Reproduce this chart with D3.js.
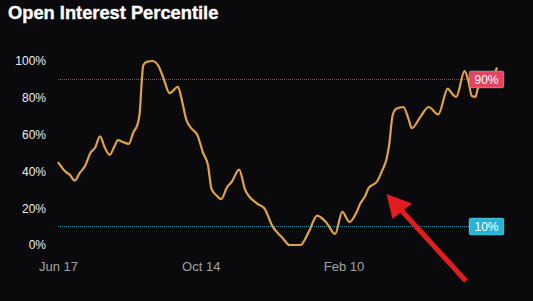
<!DOCTYPE html>
<html><head><meta charset="utf-8">
<script src="https://cdn.jsdelivr.net/npm/d3@7"></script>
<style>
html,body{margin:0;padding:0;background:#0a0a0d;}
svg{display:block;}
</style></head>
<body>
<svg id="chart" width="533" height="301"></svg>
<script>
const title = "Open Interest Percentile";
const dates = ["2023-06-17","2023-06-23","2023-06-27","2023-07-01","2023-07-05","2023-07-10","2023-07-14","2023-07-18","2023-07-22","2023-07-26","2023-07-30","2023-08-03","2023-08-06","2023-08-10","2023-08-15","2023-08-19","2023-08-22","2023-08-24","2023-08-26","2023-08-27","2023-08-30","2023-09-04","2023-09-09","2023-09-13","2023-09-18","2023-09-25","2023-09-28","2023-10-02","2023-10-06","2023-10-11","2023-10-16","2023-10-20","2023-10-23","2023-10-27","2023-10-31","2023-11-05","2023-11-09","2023-11-15","2023-11-20","2023-11-30","2023-12-06","2023-12-13","2023-12-21","2023-12-27","2024-01-05","2024-01-12","2024-01-19","2024-01-27","2024-02-03","2024-02-09","2024-02-15","2024-02-21","2024-02-24","2024-02-28","2024-03-02","2024-03-09","2024-03-13","2024-03-17","2024-03-19","2024-03-22","2024-03-25","2024-03-31","2024-04-04","2024-04-07","2024-04-14","2024-04-21","2024-04-29","2024-05-07","2024-05-09","2024-05-14","2024-05-21","2024-05-24","2024-05-27","2024-05-30","2024-06-01","2024-06-08","2024-06-14","2024-06-17"];
const values = [45,40,38,35,39,43.5,50,53,59,53,49,53.5,57,56,55,61.5,65,71,90.5,97.5,99.5,100,97,90.5,82.5,86,79.5,68,63.5,60,50,43.5,30.5,27,25,31.5,34.5,41,30,22.5,20,10,4,0,0,7,16,12,6,18,12.5,18,22.5,26.5,31,34.5,40,47,54,70.5,74,75,69,63.5,69.5,75,71,85,83.5,80.5,94.5,89.5,81,80.5,85,90,92,96.5];
const yTicks = [0,20,40,60,80,100];
const xTickDates = ["2023-06-17","2023-10-14","2024-02-10"];
const thresholds = [90,10];
const thresholdLabels = ["90%","10%"];
const thresholdColors = ["#e2455f","#27b3d3"];
const thresholdLineColors = ["#b8475c","#3391a6"];

const parse = d3.utcParse("%Y-%m-%d");
const data = dates.map((d,i)=>({date:parse(d), value:values[i]}));

const svg = d3.select("#chart");
svg.append("rect").attr("width",533).attr("height",301).attr("fill","#0a0a0d");

const x = d3.scaleUtc().domain([parse("2023-06-17"), parse("2024-06-17")]).range([58,497]);
const y = d3.scaleLinear().domain([0,100]).range([245,61]);

svg.append("text").text(title)
  .attr("x",8).attr("y",18.5)
  .attr("fill","#ffffff").attr("font-family","Liberation Sans, Arial, sans-serif")
  .attr("font-weight","bold").attr("font-size",18.3)
  .attr("stroke","#ffffff").attr("stroke-width",0.35);

// y axis
const yAxis = svg.append("g").attr("transform","translate(49,0)")
  .call(d3.axisLeft(y).tickValues(yTicks).tickFormat(d=>d+"%").tickSize(0).tickPadding(3));
yAxis.select(".domain").remove();
yAxis.selectAll("text").attr("fill","#ececec").attr("font-size",12)
  .attr("font-family","Liberation Sans, Arial, sans-serif");

// x axis
const xAxis = svg.append("g").attr("transform","translate(0,262)")
  .call(d3.axisBottom(x).tickValues(xTickDates.map(parse)).tickFormat(d3.utcFormat("%b %-d")).tickSize(0).tickPadding(0));
xAxis.select(".domain").remove();
xAxis.selectAll("text").attr("fill","#a3a3a3").attr("font-size",13)
  .attr("font-family","Liberation Sans, Arial, sans-serif");

// threshold lines
thresholds.forEach((t,i)=>{
  svg.append("line").attr("x1",x(parse("2023-06-17"))).attr("x2",470)
    .attr("y1",y(t)).attr("y2",y(t))
    .attr("stroke",thresholdLineColors[i]).attr("stroke-width",1)
    .attr("stroke-dasharray","1,1");
});

// main line
const line = d3.line().x(d=>x(d.date)).y(d=>y(d.value)).curve(d3.curveMonotoneX);
svg.append("path").datum(data).attr("d",line)
  .attr("fill","none").attr("stroke","#e0a246").attr("stroke-width",2.2)
  .attr("stroke-linejoin","round");

// threshold labels
thresholds.forEach((t,i)=>{
  const g = svg.append("g").attr("transform",`translate(469,${y(t)})`);
  g.append("rect").attr("x",0).attr("y",-8.5).attr("width",35).attr("height",17).attr("rx",2)
    .attr("fill",thresholdColors[i]).attr("stroke","rgba(255,255,255,0.35)").attr("stroke-width",0.8);
  g.append("text").text(thresholdLabels[i]).attr("x",17.5).attr("y",4.3)
    .attr("text-anchor","middle").attr("fill","#ffffff").attr("font-size",12)
    .attr("font-family","Liberation Sans, Arial, sans-serif");
});

// red arrow annotation
svg.append("line").attr("x1",401).attr("y1",210).attr("x2",466).attr("y2",281)
  .attr("stroke","#e11d1d").attr("stroke-width",5).attr("stroke-linecap","butt");
svg.append("path").attr("d","M386.5,194 L412,203.5 L392.5,219 Z").attr("fill","#e11d1d");
</script>
</body></html>
